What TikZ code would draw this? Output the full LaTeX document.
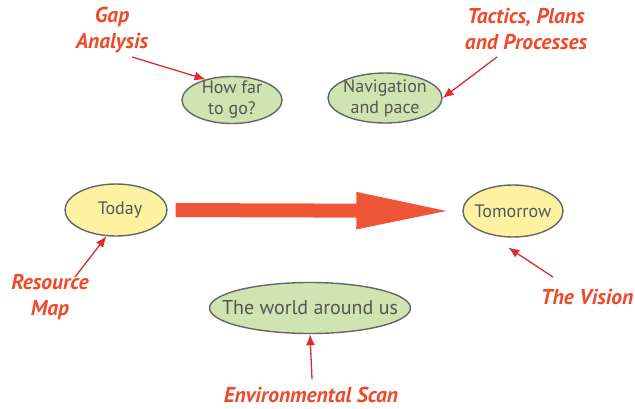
\documentclass[tikz,border=0pt]{standalone}
\usepackage{fontspec}
\setmainfont{PT Sans}
\usetikzlibrary{shapes.geometric,arrows.meta,calc}
\definecolor{greenfill}{HTML}{D0E4B2}
\definecolor{yellowfill}{HTML}{FCF2A2}
\definecolor{edgegray}{HTML}{666666}
\definecolor{textgray}{HTML}{555555}
\definecolor{labelred}{HTML}{EE4A2A}
\definecolor{arrowred}{HTML}{E02A2E}
\definecolor{bigarrow}{HTML}{EF5638}
\tikzset{
  bubble/.style={ellipse, draw=edgegray, line width=1.4pt, inner sep=0pt},
  greenb/.style={bubble, fill=greenfill},
  yellowb/.style={bubble, fill=yellowfill},
  btext/.style={text=textgray, align=center, inner sep=0pt, font=\fontsize{18}{21}\selectfont},
  lbl/.style={text=labelred, align=center, font=\fontsize{21.5}{26}\selectfont\bfseries\itshape},
  pointer/.style={draw=arrowred, line width=1.3pt, -{Latex[length=11pt,width=9pt]}},
}
\begin{document}
\begin{tikzpicture}[x=1pt,y=-1pt]
\useasboundingbox (0,0) rectangle (635,408);
% bubbles
\node[greenb, minimum width=100pt, minimum height=47pt] (howfar) at (232,100) {};
\node[btext] (howfart) at (howfar) {How far\\to go?};
\node[greenb, minimum width=114pt, minimum height=50pt] (nav) at (385,98) {};
\node[btext] (navt) at (nav) {Navigation\\and pace};
\node[yellowb, minimum width=102pt, minimum height=52pt] (today) at (116,210) {};
\node[btext] (todayt) at ([xshift=4pt]today) {Today};
\node[yellowb, minimum width=100pt, minimum height=52pt] (tomorrow) at (513,211) {};
\node[btext] (tomorrowt) at (tomorrow) {Tomorrow};
\node[greenb, minimum width=201pt, minimum height=51pt] (world) at (310,308) {};
\node[btext, font=\fontsize{20}{22}\selectfont] (worldt) at (world) {The world around us};
% labels
\node[lbl] (gap) at (112,30) {Gap\\Analysis};
\node[lbl] (tactics) at (526,29) {Tactics, Plans\\and Processes};
\node[lbl] (resource) at (50,297) {Resource\\Map};
\node[lbl] (vision) at (587,297) {The Vision};
\node[lbl] (env) at (311,395) {Environmental Scan};
% big arrow
\draw[bigarrow, line width=14pt, shorten <=8pt, shorten >=8pt, -{Triangle[length=98pt,width=33pt]}] (today.east) -- (tomorrow.west);
% pointers
\coordinate (g0) at (132,57);
\draw[pointer] (g0) -- (howfar.142);
\coordinate (t0) at (497,57);
\draw[pointer] (t0) -- (nav.east);
\coordinate (r0) at (75,277);
\draw[pointer] (r0) -- (today.-110);
\coordinate (v0) at (553,277);
\draw[pointer] (v0) -- ($(tomorrow.-100)+(0,10)$);
\coordinate (e0) at (312,379);
\draw[pointer] (e0) -- (world.south);
\end{tikzpicture}
\end{document}
